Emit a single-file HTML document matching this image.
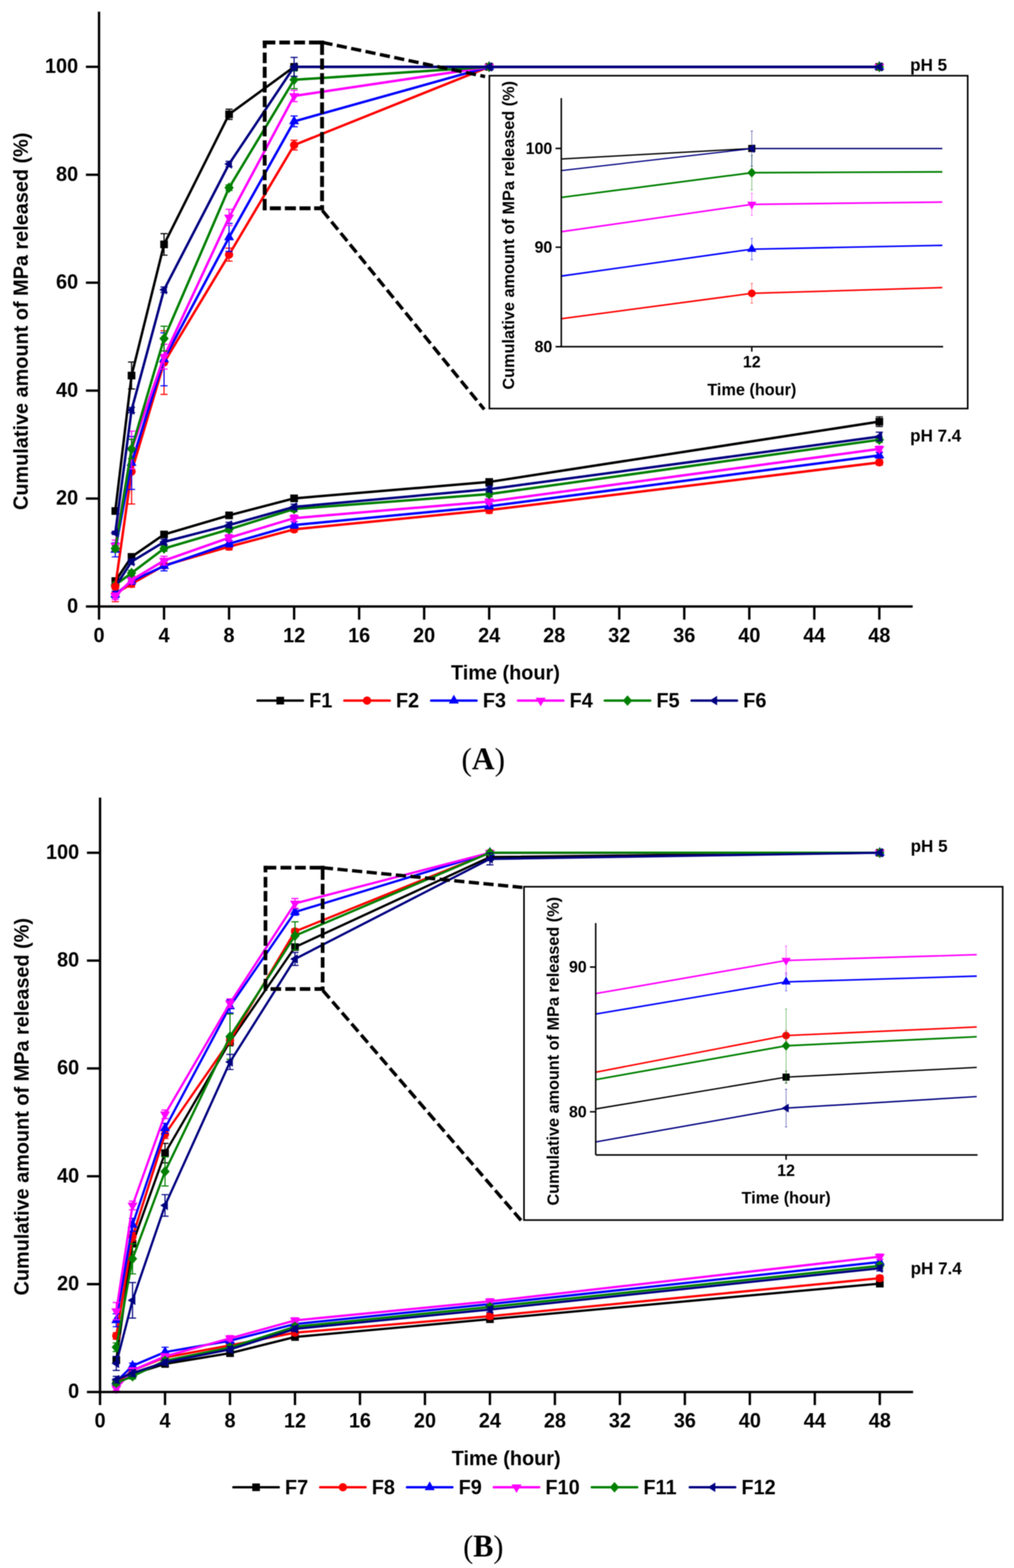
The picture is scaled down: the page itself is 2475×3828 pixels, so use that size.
<!DOCTYPE html>
<html lang="en">
<head>
<meta charset="utf-8">
<title>Cumulative amount of MPa released</title>
<style>
html,body{margin:0;padding:0;background:#fff;}
body{width:2475px;height:3828px;overflow:hidden;}
svg{display:block;filter:blur(1.1px);}
svg text{font-family:"Liberation Sans",sans-serif;font-weight:700;fill:#000;}
svg text.cap{font-family:"Liberation Serif",serif;font-weight:400;}
svg text.cap .capb{font-weight:700;}
</style>
</head>
<body>
<svg width="2475" height="3828" viewBox="0 0 2475 3828" role="img" aria-label="Cumulative amount of MPa released (%) versus time (hour) at pH 5 and pH 7.4 for formulations F1-F12">
<rect width="2475" height="3828" fill="#fff"/>
<g id="chartA">
<polyline points="281.4,1418.8 321.1,1359.5 400.4,1304.8 559.1,1258.2 717.9,1216.7 1194,1176.6 2146.3,1029.3" fill="none" stroke="#000000" stroke-width="6.0" stroke-linejoin="round" stroke-linecap="round"/>
<path d="M281.4 1410.9V1426.7M272.7 1410.9H290.1M272.7 1426.7H290.1" stroke="#000000" stroke-width="2.7" fill="none"/>
<path d="M321.1 1352.9V1366.1M312.4 1352.9H329.8M312.4 1366.1H329.8" stroke="#000000" stroke-width="2.7" fill="none"/>
<path d="M400.4 1298.2V1311.4M391.7 1298.2H409.1M391.7 1311.4H409.1" stroke="#000000" stroke-width="2.7" fill="none"/>
<path d="M559.1 1251.6V1264.8M550.4 1251.6H567.8M550.4 1264.8H567.8" stroke="#000000" stroke-width="2.7" fill="none"/>
<path d="M717.9 1210.1V1223.3M709.2 1210.1H726.6M709.2 1223.3H726.6" stroke="#000000" stroke-width="2.7" fill="none"/>
<path d="M1194 1170V1183.2M1185.3 1170H1202.7M1185.3 1183.2H1202.7" stroke="#000000" stroke-width="2.7" fill="none"/>
<path d="M2146.3 1017.5V1041.2M2137.6 1017.5H2155M2137.6 1041.2H2155" stroke="#000000" stroke-width="2.7" fill="none"/>
<rect x="272.1" y="1409.4" width="18.7" height="18.7" fill="#000000"/>
<rect x="311.7" y="1350.2" width="18.7" height="18.7" fill="#000000"/>
<rect x="391.1" y="1295.5" width="18.7" height="18.7" fill="#000000"/>
<rect x="549.8" y="1248.8" width="18.7" height="18.7" fill="#000000"/>
<rect x="708.5" y="1207.3" width="18.7" height="18.7" fill="#000000"/>
<rect x="1184.7" y="1167.3" width="18.7" height="18.7" fill="#000000"/>
<rect x="2137" y="1020" width="18.7" height="18.7" fill="#000000"/>
<polyline points="281.4,1449.1 321.1,1425.4 400.4,1380.6 559.1,1334.7 717.9,1292.3 1194,1245.3 2146.3,1128.9" fill="none" stroke="#ff0000" stroke-width="6.0" stroke-linejoin="round" stroke-linecap="round"/>
<path d="M281.4 1429.3V1468.8M272.7 1429.3H290.1M272.7 1468.8H290.1" stroke="#ff0000" stroke-width="2.7" fill="none"/>
<path d="M321.1 1417.5V1433.3M312.4 1417.5H329.8M312.4 1433.3H329.8" stroke="#ff0000" stroke-width="2.7" fill="none"/>
<path d="M400.4 1374V1387.2M391.7 1374H409.1M391.7 1387.2H409.1" stroke="#ff0000" stroke-width="2.7" fill="none"/>
<path d="M559.1 1326.8V1342.6M550.4 1326.8H567.8M550.4 1342.6H567.8" stroke="#ff0000" stroke-width="2.7" fill="none"/>
<path d="M717.9 1285.7V1298.9M709.2 1285.7H726.6M709.2 1298.9H726.6" stroke="#ff0000" stroke-width="2.7" fill="none"/>
<path d="M1194 1237.4V1253.2M1185.3 1237.4H1202.7M1185.3 1253.2H1202.7" stroke="#ff0000" stroke-width="2.7" fill="none"/>
<path d="M2146.3 1122.3V1135.5M2137.6 1122.3H2155M2137.6 1135.5H2155" stroke="#ff0000" stroke-width="2.7" fill="none"/>
<circle cx="281.4" cy="1449.1" r="10.1" fill="#ff0000"/>
<circle cx="321.1" cy="1425.4" r="10.1" fill="#ff0000"/>
<circle cx="400.4" cy="1380.6" r="10.1" fill="#ff0000"/>
<circle cx="559.1" cy="1334.7" r="10.1" fill="#ff0000"/>
<circle cx="717.9" cy="1292.3" r="10.1" fill="#ff0000"/>
<circle cx="1194" cy="1245.3" r="10.1" fill="#ff0000"/>
<circle cx="2146.3" cy="1128.9" r="10.1" fill="#ff0000"/>
<polyline points="281.4,1451.7 321.1,1418.8 400.4,1381.9 559.1,1327.3 717.9,1281.8 1194,1235.9 2146.3,1111.8" fill="none" stroke="#0000ff" stroke-width="6.0" stroke-linejoin="round" stroke-linecap="round"/>
<path d="M281.4 1443.8V1459.6M272.7 1443.8H290.1M272.7 1459.6H290.1" stroke="#0000ff" stroke-width="2.7" fill="none"/>
<path d="M321.1 1410.9V1426.7M312.4 1410.9H329.8M312.4 1426.7H329.8" stroke="#0000ff" stroke-width="2.7" fill="none"/>
<path d="M400.4 1370V1393.7M391.7 1370H409.1M391.7 1393.7H409.1" stroke="#0000ff" stroke-width="2.7" fill="none"/>
<path d="M559.1 1319.4V1335.2M550.4 1319.4H567.8M550.4 1335.2H567.8" stroke="#0000ff" stroke-width="2.7" fill="none"/>
<path d="M717.9 1273.9V1289.7M709.2 1273.9H726.6M709.2 1289.7H726.6" stroke="#0000ff" stroke-width="2.7" fill="none"/>
<path d="M1194 1229.3V1242.5M1185.3 1229.3H1202.7M1185.3 1242.5H1202.7" stroke="#0000ff" stroke-width="2.7" fill="none"/>
<path d="M2146.3 1105.2V1118.4M2137.6 1105.2H2155M2137.6 1118.4H2155" stroke="#0000ff" stroke-width="2.7" fill="none"/>
<path d="M281.4 1437.3L293.6 1458.7L269.2 1458.7Z" fill="#0000ff"/>
<path d="M321.1 1404.4L333.2 1425.8L308.9 1425.8Z" fill="#0000ff"/>
<path d="M400.4 1367.5L412.6 1388.9L388.2 1388.9Z" fill="#0000ff"/>
<path d="M559.1 1312.9L571.3 1334.3L546.9 1334.3Z" fill="#0000ff"/>
<path d="M717.9 1267.3L730 1288.8L705.7 1288.8Z" fill="#0000ff"/>
<path d="M1194 1221.5L1206.2 1242.9L1181.8 1242.9Z" fill="#0000ff"/>
<path d="M2146.3 1097.4L2158.5 1118.8L2134.1 1118.8Z" fill="#0000ff"/>
<polyline points="281.4,1455.7 321.1,1416.1 400.4,1368.7 559.1,1312.9 717.9,1265 1194,1224.4 2146.3,1096" fill="none" stroke="#ff00ff" stroke-width="6.0" stroke-linejoin="round" stroke-linecap="round"/>
<path d="M281.4 1447.8V1463.6M272.7 1447.8H290.1M272.7 1463.6H290.1" stroke="#ff00ff" stroke-width="2.7" fill="none"/>
<path d="M321.1 1408.2V1424M312.4 1408.2H329.8M312.4 1424H329.8" stroke="#ff00ff" stroke-width="2.7" fill="none"/>
<path d="M400.4 1358.2V1379.3M391.7 1358.2H409.1M391.7 1379.3H409.1" stroke="#ff00ff" stroke-width="2.7" fill="none"/>
<path d="M559.1 1304.9V1320.8M550.4 1304.9H567.8M550.4 1320.8H567.8" stroke="#ff00ff" stroke-width="2.7" fill="none"/>
<path d="M717.9 1257.1V1272.9M709.2 1257.1H726.6M709.2 1272.9H726.6" stroke="#ff00ff" stroke-width="2.7" fill="none"/>
<path d="M1194 1217.9V1231M1185.3 1217.9H1202.7M1185.3 1231H1202.7" stroke="#ff00ff" stroke-width="2.7" fill="none"/>
<path d="M2146.3 1089.4V1102.6M2137.6 1089.4H2155M2137.6 1102.6H2155" stroke="#ff00ff" stroke-width="2.7" fill="none"/>
<path d="M281.4 1469.4L293.6 1448.8L269.2 1448.8Z" fill="#ff00ff"/>
<path d="M321.1 1429.9L333.2 1409.3L308.9 1409.3Z" fill="#ff00ff"/>
<path d="M400.4 1382.5L412.6 1361.8L388.2 1361.8Z" fill="#ff00ff"/>
<path d="M559.1 1326.6L571.3 1306L546.9 1306Z" fill="#ff00ff"/>
<path d="M717.9 1278.8L730 1258.1L705.7 1258.1Z" fill="#ff00ff"/>
<path d="M1194 1238.2L1206.2 1217.6L1181.8 1217.6Z" fill="#ff00ff"/>
<path d="M2146.3 1109.8L2158.5 1089.1L2134.1 1089.1Z" fill="#ff00ff"/>
<polyline points="281.4,1428 321.1,1399 400.4,1339.1 559.1,1292.3 717.9,1242.6 1194,1206.3 2146.3,1073.6" fill="none" stroke="#008000" stroke-width="6.0" stroke-linejoin="round" stroke-linecap="round"/>
<path d="M281.4 1421.4V1434.6M272.7 1421.4H290.1M272.7 1434.6H290.1" stroke="#008000" stroke-width="2.7" fill="none"/>
<path d="M321.1 1392.4V1405.6M312.4 1392.4H329.8M312.4 1405.6H329.8" stroke="#008000" stroke-width="2.7" fill="none"/>
<path d="M400.4 1332.5V1345.7M391.7 1332.5H409.1M391.7 1345.7H409.1" stroke="#008000" stroke-width="2.7" fill="none"/>
<path d="M559.1 1285.7V1298.9M550.4 1285.7H567.8M550.4 1298.9H567.8" stroke="#008000" stroke-width="2.7" fill="none"/>
<path d="M717.9 1236V1249.2M709.2 1236H726.6M709.2 1249.2H726.6" stroke="#008000" stroke-width="2.7" fill="none"/>
<path d="M1194 1199.7V1212.9M1185.3 1199.7H1202.7M1185.3 1212.9H1202.7" stroke="#008000" stroke-width="2.7" fill="none"/>
<path d="M2146.3 1067V1080.2M2137.6 1067H2155M2137.6 1080.2H2155" stroke="#008000" stroke-width="2.7" fill="none"/>
<path d="M281.4 1415.1L292.8 1428L281.4 1440.9L269.9 1428Z" fill="#008000"/>
<path d="M321.1 1386.1L332.5 1399L321.1 1411.9L309.6 1399Z" fill="#008000"/>
<path d="M400.4 1326.1L411.9 1339.1L400.4 1352L389 1339.1Z" fill="#008000"/>
<path d="M559.1 1279.4L570.6 1292.3L559.1 1305.2L547.7 1292.3Z" fill="#008000"/>
<path d="M717.9 1229.7L729.3 1242.6L717.9 1255.6L706.4 1242.6Z" fill="#008000"/>
<path d="M1194 1193.3L1205.5 1206.3L1194 1219.2L1182.6 1206.3Z" fill="#008000"/>
<path d="M2146.3 1060.7L2157.8 1073.6L2146.3 1086.5L2134.9 1073.6Z" fill="#008000"/>
<polyline points="281.4,1432 321.1,1371.3 400.4,1323 559.1,1281.8 717.9,1237.5 1194,1194.3 2146.3,1065.7" fill="none" stroke="#000080" stroke-width="6.0" stroke-linejoin="round" stroke-linecap="round"/>
<path d="M281.4 1425.4V1438.5M272.7 1425.4H290.1M272.7 1438.5H290.1" stroke="#000080" stroke-width="2.7" fill="none"/>
<path d="M321.1 1364.8V1377.9M312.4 1364.8H329.8M312.4 1377.9H329.8" stroke="#000080" stroke-width="2.7" fill="none"/>
<path d="M400.4 1316.4V1329.6M391.7 1316.4H409.1M391.7 1329.6H409.1" stroke="#000080" stroke-width="2.7" fill="none"/>
<path d="M559.1 1275.2V1288.3M550.4 1275.2H567.8M550.4 1288.3H567.8" stroke="#000080" stroke-width="2.7" fill="none"/>
<path d="M717.9 1230.9V1244.1M709.2 1230.9H726.6M709.2 1244.1H726.6" stroke="#000080" stroke-width="2.7" fill="none"/>
<path d="M1194 1187.7V1200.9M1185.3 1187.7H1202.7M1185.3 1200.9H1202.7" stroke="#000080" stroke-width="2.7" fill="none"/>
<path d="M2146.3 1055.1V1076.2M2137.6 1055.1H2155M2137.6 1076.2H2155" stroke="#000080" stroke-width="2.7" fill="none"/>
<path d="M269.7 1432L288.3 1420.3L288.3 1443.6Z" fill="#000080"/>
<path d="M309.4 1371.3L327.9 1359.7L327.9 1383Z" fill="#000080"/>
<path d="M388.8 1323L407.3 1311.3L407.3 1334.7Z" fill="#000080"/>
<path d="M547.5 1281.8L566 1270.1L566 1293.4Z" fill="#000080"/>
<path d="M706.2 1237.5L724.7 1225.8L724.7 1249.1Z" fill="#000080"/>
<path d="M1182.4 1194.3L1200.9 1182.6L1200.9 1205.9Z" fill="#000080"/>
<path d="M2134.7 1065.7L2153.2 1054L2153.2 1077.3Z" fill="#000080"/>
<polyline points="281.4,1247.5 321.1,916.8 400.4,596.7 559.1,279.1 717.9,163.2 1194,163.2 2146.3,163.2" fill="none" stroke="#000000" stroke-width="6.0" stroke-linejoin="round" stroke-linecap="round"/>
<path d="M281.4 1242.2V1252.8M272.7 1242.2H290.1M272.7 1252.8H290.1" stroke="#000000" stroke-width="2.7" fill="none"/>
<path d="M321.1 883.9V949.7M312.4 883.9H329.8M312.4 949.7H329.8" stroke="#000000" stroke-width="2.7" fill="none"/>
<path d="M400.4 570.3V623M391.7 570.3H409.1M391.7 623H409.1" stroke="#000000" stroke-width="2.7" fill="none"/>
<path d="M559.1 266.6V291.7M550.4 266.6H567.8M550.4 291.7H567.8" stroke="#000000" stroke-width="2.7" fill="none"/>
<path d="M717.9 159.2V167.2M709.2 159.2H726.6M709.2 167.2H726.6" stroke="#000000" stroke-width="2.7" fill="none"/>
<rect x="272.1" y="1238.2" width="18.7" height="18.7" fill="#000000"/>
<rect x="311.7" y="907.5" width="18.7" height="18.7" fill="#000000"/>
<rect x="391.1" y="587.3" width="18.7" height="18.7" fill="#000000"/>
<rect x="549.8" y="269.8" width="18.7" height="18.7" fill="#000000"/>
<rect x="708.5" y="153.9" width="18.7" height="18.7" fill="#000000"/>
<rect x="1184.7" y="153.9" width="18.7" height="18.7" fill="#000000"/>
<rect x="2137" y="153.9" width="18.7" height="18.7" fill="#000000"/>
<polyline points="281.4,1432 321.1,1151.3 400.4,885.2 559.1,621.7 717.9,354.2 1194,163.2 2146.3,163.2" fill="none" stroke="#ff0000" stroke-width="6.0" stroke-linejoin="round" stroke-linecap="round"/>
<path d="M281.4 1426.7V1437.2M272.7 1426.7H290.1M272.7 1437.2H290.1" stroke="#ff0000" stroke-width="2.7" fill="none"/>
<path d="M321.1 1072.3V1230.4M312.4 1072.3H329.8M312.4 1230.4H329.8" stroke="#ff0000" stroke-width="2.7" fill="none"/>
<path d="M400.4 807.5V962.9M391.7 807.5H409.1M391.7 962.9H409.1" stroke="#ff0000" stroke-width="2.7" fill="none"/>
<path d="M559.1 605.9V637.5M550.4 605.9H567.8M550.4 637.5H567.8" stroke="#ff0000" stroke-width="2.7" fill="none"/>
<path d="M717.9 342.4V366.1M709.2 342.4H726.6M709.2 366.1H726.6" stroke="#ff0000" stroke-width="2.7" fill="none"/>
<circle cx="281.4" cy="1432" r="10.1" fill="#ff0000"/>
<circle cx="321.1" cy="1151.3" r="10.1" fill="#ff0000"/>
<circle cx="400.4" cy="885.2" r="10.1" fill="#ff0000"/>
<circle cx="559.1" cy="621.7" r="10.1" fill="#ff0000"/>
<circle cx="717.9" cy="354.2" r="10.1" fill="#ff0000"/>
<circle cx="1194" cy="163.2" r="10.1" fill="#ff0000"/>
<circle cx="2146.3" cy="163.2" r="10.1" fill="#ff0000"/>
<polyline points="281.4,1342.4 321.1,1130.2 400.4,877.3 559.1,579.5 717.9,296.3 1194,163.2 2146.3,163.2" fill="none" stroke="#0000ff" stroke-width="6.0" stroke-linejoin="round" stroke-linecap="round"/>
<path d="M281.4 1325.2V1359.5M272.7 1325.2H290.1M272.7 1359.5H290.1" stroke="#0000ff" stroke-width="2.7" fill="none"/>
<path d="M321.1 1065.7V1194.8M312.4 1065.7H329.8M312.4 1194.8H329.8" stroke="#0000ff" stroke-width="2.7" fill="none"/>
<path d="M400.4 812.7V941.8M391.7 812.7H409.1M391.7 941.8H409.1" stroke="#0000ff" stroke-width="2.7" fill="none"/>
<path d="M559.1 545.3V613.8M550.4 545.3H567.8M550.4 613.8H567.8" stroke="#0000ff" stroke-width="2.7" fill="none"/>
<path d="M717.9 283.1V309.4M709.2 283.1H726.6M709.2 309.4H726.6" stroke="#0000ff" stroke-width="2.7" fill="none"/>
<path d="M281.4 1327.9L293.6 1349.4L269.2 1349.4Z" fill="#0000ff"/>
<path d="M321.1 1115.8L333.2 1137.2L308.9 1137.2Z" fill="#0000ff"/>
<path d="M400.4 862.9L412.6 884.3L388.2 884.3Z" fill="#0000ff"/>
<path d="M559.1 565.1L571.3 586.5L546.9 586.5Z" fill="#0000ff"/>
<path d="M717.9 281.9L730 303.3L705.7 303.3Z" fill="#0000ff"/>
<path d="M1194 148.8L1206.2 170.2L1181.8 170.2Z" fill="#0000ff"/>
<path d="M2146.3 148.8L2158.5 170.2L2134.1 170.2Z" fill="#0000ff"/>
<polyline points="281.4,1331.8 321.1,1098.6 400.4,870.7 559.1,530.8 717.9,234.3 1194,163.2 2146.3,163.2" fill="none" stroke="#ff00ff" stroke-width="6.0" stroke-linejoin="round" stroke-linecap="round"/>
<path d="M281.4 1318.6V1345M272.7 1318.6H290.1M272.7 1345H290.1" stroke="#ff00ff" stroke-width="2.7" fill="none"/>
<path d="M321.1 1052.5V1144.7M312.4 1052.5H329.8M312.4 1144.7H329.8" stroke="#ff00ff" stroke-width="2.7" fill="none"/>
<path d="M400.4 840.4V901M391.7 840.4H409.1M391.7 901H409.1" stroke="#ff00ff" stroke-width="2.7" fill="none"/>
<path d="M559.1 511V550.5M550.4 511H567.8M550.4 550.5H567.8" stroke="#ff00ff" stroke-width="2.7" fill="none"/>
<path d="M717.9 220.5V248.2M709.2 220.5H726.6M709.2 248.2H726.6" stroke="#ff00ff" stroke-width="2.7" fill="none"/>
<path d="M281.4 1345.6L293.6 1324.9L269.2 1324.9Z" fill="#ff00ff"/>
<path d="M321.1 1112.4L333.2 1091.7L308.9 1091.7Z" fill="#ff00ff"/>
<path d="M400.4 884.5L412.6 863.8L388.2 863.8Z" fill="#ff00ff"/>
<path d="M559.1 544.6L571.3 523.9L546.9 523.9Z" fill="#ff00ff"/>
<path d="M717.9 248.1L730 227.5L705.7 227.5Z" fill="#ff00ff"/>
<path d="M1194 177L1206.2 156.3L1181.8 156.3Z" fill="#ff00ff"/>
<path d="M2146.3 177L2158.5 156.3L2134.1 156.3Z" fill="#ff00ff"/>
<polyline points="281.4,1339.1 321.1,1096 400.4,826.6 559.1,458.3 717.9,194.8 1194,163.2 2146.3,163.2" fill="none" stroke="#008000" stroke-width="6.0" stroke-linejoin="round" stroke-linecap="round"/>
<path d="M281.4 1332.5V1345.7M272.7 1332.5H290.1M272.7 1345.7H290.1" stroke="#008000" stroke-width="2.7" fill="none"/>
<path d="M321.1 1072.3V1119.7M312.4 1072.3H329.8M312.4 1119.7H329.8" stroke="#008000" stroke-width="2.7" fill="none"/>
<path d="M400.4 796.3V856.9M391.7 796.3H409.1M391.7 856.9H409.1" stroke="#008000" stroke-width="2.7" fill="none"/>
<path d="M559.1 451.7V464.9M550.4 451.7H567.8M550.4 464.9H567.8" stroke="#008000" stroke-width="2.7" fill="none"/>
<path d="M717.9 173.1V216.6M709.2 173.1H726.6M709.2 216.6H726.6" stroke="#008000" stroke-width="2.7" fill="none"/>
<path d="M281.4 1326.1L292.8 1339.1L281.4 1352L269.9 1339.1Z" fill="#008000"/>
<path d="M321.1 1083.1L332.5 1096L321.1 1108.9L309.6 1096Z" fill="#008000"/>
<path d="M400.4 813.6L411.9 826.6L400.4 839.5L389 826.6Z" fill="#008000"/>
<path d="M559.1 445.4L570.6 458.3L559.1 471.3L547.7 458.3Z" fill="#008000"/>
<path d="M717.9 181.9L729.3 194.8L717.9 207.8L706.4 194.8Z" fill="#008000"/>
<path d="M1194 150.3L1205.5 163.2L1194 176.1L1182.6 163.2Z" fill="#008000"/>
<path d="M2146.3 150.3L2157.8 163.2L2146.3 176.1L2134.9 163.2Z" fill="#008000"/>
<polyline points="281.4,1300.9 321.1,1001.1 400.4,707.3 559.1,400.3 717.9,163.2 1194,163.2 2146.3,163.2" fill="none" stroke="#000080" stroke-width="6.0" stroke-linejoin="round" stroke-linecap="round"/>
<path d="M281.4 1296.9V1304.8M272.7 1296.9H290.1M272.7 1304.8H290.1" stroke="#000080" stroke-width="2.7" fill="none"/>
<path d="M321.1 994.5V1007.7M312.4 994.5H329.8M312.4 1007.7H329.8" stroke="#000080" stroke-width="2.7" fill="none"/>
<path d="M400.4 700.7V713.9M391.7 700.7H409.1M391.7 713.9H409.1" stroke="#000080" stroke-width="2.7" fill="none"/>
<path d="M559.1 393.8V406.9M550.4 393.8H567.8M550.4 406.9H567.8" stroke="#000080" stroke-width="2.7" fill="none"/>
<path d="M717.9 140.1V186.3M709.2 140.1H726.6M709.2 186.3H726.6" stroke="#000080" stroke-width="2.7" fill="none"/>
<path d="M269.7 1300.9L288.3 1289.2L288.3 1312.5Z" fill="#000080"/>
<path d="M309.4 1001.1L327.9 989.5L327.9 1012.8Z" fill="#000080"/>
<path d="M388.8 707.3L407.3 695.7L407.3 719Z" fill="#000080"/>
<path d="M547.5 400.3L566 388.7L566 412Z" fill="#000080"/>
<path d="M706.2 163.2L724.7 151.5L724.7 174.9Z" fill="#000080"/>
<path d="M1182.4 163.2L1200.9 151.5L1200.9 174.9Z" fill="#000080"/>
<path d="M2134.7 163.2L2153.2 151.5L2153.2 174.9Z" fill="#000080"/>
<path d="M241.7 28.5V1480.7M209.7 1480.7H2227.7M209.7 1217.2H241.7M209.7 953.7H241.7M209.7 690.2H241.7M209.7 426.7H241.7M209.7 163.2H241.7M241.7 1480.7V1512.7M400.4 1480.7V1512.7M559.1 1480.7V1512.7M717.9 1480.7V1512.7M876.6 1480.7V1512.7M1035.3 1480.7V1512.7M1194 1480.7V1512.7M1352.7 1480.7V1512.7M1511.5 1480.7V1512.7M1670.2 1480.7V1512.7M1828.9 1480.7V1512.7M1987.6 1480.7V1512.7M2146.3 1480.7V1512.7" stroke="#000" stroke-width="5.8" fill="none"/>
<text transform="translate(190.7 1495.7) scale(0.96 1)" text-anchor="end" font-size="50.5">0</text>
<text transform="translate(190.7 1232.2) scale(0.96 1)" text-anchor="end" font-size="50.5">20</text>
<text transform="translate(190.7 968.7) scale(0.96 1)" text-anchor="end" font-size="50.5">40</text>
<text transform="translate(190.7 705.2) scale(0.96 1)" text-anchor="end" font-size="50.5">60</text>
<text transform="translate(190.7 441.7) scale(0.96 1)" text-anchor="end" font-size="50.5">80</text>
<text transform="translate(190.7 178.2) scale(0.96 1)" text-anchor="end" font-size="50.5">100</text>
<text transform="translate(241.7 1567.7) scale(0.96 1)" text-anchor="middle" font-size="50.5">0</text>
<text transform="translate(400.4 1567.7) scale(0.96 1)" text-anchor="middle" font-size="50.5">4</text>
<text transform="translate(559.1 1567.7) scale(0.96 1)" text-anchor="middle" font-size="50.5">8</text>
<text transform="translate(717.9 1567.7) scale(0.96 1)" text-anchor="middle" font-size="50.5">12</text>
<text transform="translate(876.6 1567.7) scale(0.96 1)" text-anchor="middle" font-size="50.5">16</text>
<text transform="translate(1035.3 1567.7) scale(0.96 1)" text-anchor="middle" font-size="50.5">20</text>
<text transform="translate(1194 1567.7) scale(0.96 1)" text-anchor="middle" font-size="50.5">24</text>
<text transform="translate(1352.7 1567.7) scale(0.96 1)" text-anchor="middle" font-size="50.5">28</text>
<text transform="translate(1511.5 1567.7) scale(0.96 1)" text-anchor="middle" font-size="50.5">32</text>
<text transform="translate(1670.2 1567.7) scale(0.96 1)" text-anchor="middle" font-size="50.5">36</text>
<text transform="translate(1828.9 1567.7) scale(0.96 1)" text-anchor="middle" font-size="50.5">40</text>
<text transform="translate(1987.6 1567.7) scale(0.96 1)" text-anchor="middle" font-size="50.5">44</text>
<text transform="translate(2146.3 1567.7) scale(0.96 1)" text-anchor="middle" font-size="50.5">48</text>
<text transform="translate(1233.7 1659.3) scale(0.96 1)" text-anchor="middle" font-size="50.5">Time (hour)</text>
<text transform="translate(67.5 1245) rotate(-90) scale(0.96 1)" font-size="50.5">Cumulative amount of MPa released (%)</text>
<text transform="translate(2221.5 172.8) scale(0.96 1)" font-size="43.3">pH 5</text>
<text transform="translate(2221.5 1077.8) scale(0.96 1)" font-size="43.3">pH 7.4</text>
<path d="M641.2 103.8H672.1M681.8 103.8H707.8M717.5 103.8H744.5M754.2 103.8H791M641.2 508.5H650.9M658.6 508.5H685.6M695.3 508.5H722.3M731 508.5H758M766.7 508.5H791M646.1 98.9V117.6M646.1 128.3V154.3M646.1 163V190M646.1 198.7V225.8M646.1 234.4V261.5M646.1 270.2V297.2M646.1 306.8V333M646.1 342.5V368.6M646.1 378.3V404.3M646.1 414V440M646.1 449.7V475.8M646.1 485.4V513.4M786.1 98.9V134.1M786.1 142.7V169.8M786.1 178.5V205.5M786.1 215.1V241.2M786.1 249.9V277.9M786.1 285.6V313.6M786.1 322.3V349.3M786.1 358V385M786.1 393.7V420.7M786.1 429.4V456.5M786.1 465.1V491.2M786.1 500.8V513.4" stroke="#000" stroke-width="9.4" fill="none"/>
<path d="M787 103.5L1184 187" stroke="#000" stroke-width="8.2" stroke-dasharray="25 10.8" fill="none"/>
<path d="M786.5 513.5L1182 999.5" stroke="#000" stroke-width="8.2" stroke-dasharray="25 10.8" fill="none"/>
<rect x="1194.5" y="184.8" width="1167.5" height="812.6" fill="#fff" stroke="#000" stroke-width="3.9"/>
<polyline points="1370,388.2 1835,362.5 2300,362.5" fill="none" stroke="#000000" stroke-width="3.2"/>
<polyline points="1370,778.2 1835,716.2 2300,702.1" fill="none" stroke="#ff0000" stroke-width="3.8"/>
<polyline points="1370,674 1835,608.3 2300,599" fill="none" stroke="#0000ff" stroke-width="3.8"/>
<polyline points="1370,565.7 1835,498.9 2300,493.3" fill="none" stroke="#ff00ff" stroke-width="4.0"/>
<polyline points="1370,482 1835,421.6 2300,419.6" fill="none" stroke="#008000" stroke-width="4.2"/>
<polyline points="1370,416.4 1835,362.8 2300,362.8" fill="none" stroke="#000080" stroke-width="3.0"/>
<path d="M1835 362.5V362.5M1832 362.5H1838M1832 362.5H1838" stroke="#000000" stroke-width="1.4" fill="none" opacity="0.7"/>
<rect x="1826.3" y="353.8" width="17.4" height="17.4" fill="#000000"/>
<path d="M1835 692.2V740.2M1832 692.2H1838M1832 740.2H1838" stroke="#ff0000" stroke-width="1.4" fill="none" opacity="0.7"/>
<circle cx="1835" cy="716.2" r="9.4" fill="#ff0000"/>
<path d="M1835 582.3V634.3M1832 582.3H1838M1832 634.3H1838" stroke="#0000ff" stroke-width="1.4" fill="none" opacity="0.7"/>
<path d="M1835 594.9L1846.3 614.8L1823.7 614.8Z" fill="#0000ff"/>
<path d="M1835 471.9V525.9M1832 471.9H1838M1832 525.9H1838" stroke="#ff00ff" stroke-width="1.4" fill="none" opacity="0.7"/>
<path d="M1835 511.7L1846.3 492.5L1823.7 492.5Z" fill="#ff00ff"/>
<path d="M1835 379.6V463.6M1832 379.6H1838M1832 463.6H1838" stroke="#008000" stroke-width="1.4" fill="none" opacity="0.7"/>
<path d="M1835 409.6L1845.6 421.6L1835 433.6L1824.4 421.6Z" fill="#008000"/>
<path d="M1835 319.8V405.8M1832 319.8H1838M1832 405.8H1838" stroke="#000080" stroke-width="1.4" fill="none" opacity="0.7"/>
<path d="M1824.2 362.8L1841.4 352L1841.4 373.6Z" fill="#000080"/>
<text transform="translate(1348 375.9) scale(0.96 1)" text-anchor="end" font-size="40.6">100</text>
<text transform="translate(1348 617) scale(0.96 1)" text-anchor="end" font-size="40.6">90</text>
<text transform="translate(1348 859.9) scale(0.96 1)" text-anchor="end" font-size="40.6">80</text>
<path d="M1370 239.5V846.4M1356 846.4H2302M1835 846.4V858.4M1356 362.4H1370M1356 603.5H1370" stroke="#000" stroke-width="3.6" fill="none"/>
<text transform="translate(1835 897.4) scale(0.96 1)" text-anchor="middle" font-size="40.6">12</text>
<text transform="translate(1835 965.4) scale(0.96 1)" text-anchor="middle" font-size="41.3">Time (hour)</text>
<text transform="translate(1254.5 951) rotate(-90) scale(0.96 1)" font-size="41.3">Cumulative amount of MPa released (%)</text>
<path d="M628.5 1710.4H739.5" stroke="#000000" stroke-width="5.6" stroke-linecap="round" fill="none"/>
<rect x="674.7" y="1701.1" width="18.7" height="18.7" fill="#000000"/>
<text transform="translate(754.6 1727) scale(0.96 1)" font-size="50.5">F1</text>
<path d="M840.4 1710.4H951.4" stroke="#ff0000" stroke-width="5.6" stroke-linecap="round" fill="none"/>
<circle cx="895.9" cy="1710.4" r="10.1" fill="#ff0000"/>
<text transform="translate(966.5 1727) scale(0.96 1)" font-size="50.5">F2</text>
<path d="M1052.3 1710.4H1163.3" stroke="#0000ff" stroke-width="5.6" stroke-linecap="round" fill="none"/>
<path d="M1107.8 1696L1120 1717.4L1095.6 1717.4Z" fill="#0000ff"/>
<text transform="translate(1178.4 1727) scale(0.96 1)" font-size="50.5">F3</text>
<path d="M1264.2 1710.4H1375.2" stroke="#ff00ff" stroke-width="5.6" stroke-linecap="round" fill="none"/>
<path d="M1319.7 1724.2L1331.9 1703.5L1307.5 1703.5Z" fill="#ff00ff"/>
<text transform="translate(1390.3 1727) scale(0.96 1)" font-size="50.5">F4</text>
<path d="M1476.1 1710.4H1587.1" stroke="#008000" stroke-width="5.6" stroke-linecap="round" fill="none"/>
<path d="M1531.6 1697.5L1543 1710.4L1531.6 1723.3L1520.2 1710.4Z" fill="#008000"/>
<text transform="translate(1602.2 1727) scale(0.96 1)" font-size="50.5">F5</text>
<path d="M1688 1710.4H1799" stroke="#000080" stroke-width="5.6" stroke-linecap="round" fill="none"/>
<path d="M1731.8 1710.4L1750.4 1698.7L1750.4 1722.1Z" fill="#000080"/>
<text transform="translate(1814.1 1727) scale(0.96 1)" font-size="50.5">F6</text>
<text transform="translate(1179.5 1877.9) scale(0.985 1)" text-anchor="middle" class="cap" font-size="78"><tspan dy="2">(</tspan><tspan class="capb" dy="-2">A</tspan><tspan dy="2">)</tspan></text>
</g>
<g id="chartB">
<polyline points="283.8,3374.6 323.5,3354.9 402.8,3329.8 561.4,3303.5 720,3264 1195.8,3220.6 2147.4,3133.7" fill="none" stroke="#000000" stroke-width="5.5" stroke-linejoin="round" stroke-linecap="round"/>
<path d="M283.8 3368V3381.2M275.1 3368H292.5M275.1 3381.2H292.5" stroke="#000000" stroke-width="2.7" fill="none"/>
<path d="M323.5 3348.3V3361.4M314.8 3348.3H332.2M314.8 3361.4H332.2" stroke="#000000" stroke-width="2.7" fill="none"/>
<path d="M402.8 3323.3V3336.4M394.1 3323.3H411.5M394.1 3336.4H411.5" stroke="#000000" stroke-width="2.7" fill="none"/>
<path d="M561.4 3296.9V3310.1M552.7 3296.9H570.1M552.7 3310.1H570.1" stroke="#000000" stroke-width="2.7" fill="none"/>
<path d="M720 3257.4V3270.6M711.3 3257.4H728.7M711.3 3270.6H728.7" stroke="#000000" stroke-width="2.7" fill="none"/>
<path d="M1195.8 3214V3227.2M1187.1 3214H1204.5M1187.1 3227.2H1204.5" stroke="#000000" stroke-width="2.7" fill="none"/>
<path d="M2147.4 3125.8V3141.6M2138.7 3125.8H2156.1M2138.7 3141.6H2156.1" stroke="#000000" stroke-width="2.7" fill="none"/>
<rect x="274.5" y="3365.3" width="18.7" height="18.7" fill="#000000"/>
<rect x="314.2" y="3345.5" width="18.7" height="18.7" fill="#000000"/>
<rect x="393.5" y="3320.5" width="18.7" height="18.7" fill="#000000"/>
<rect x="552.1" y="3294.2" width="18.7" height="18.7" fill="#000000"/>
<rect x="710.7" y="3254.7" width="18.7" height="18.7" fill="#000000"/>
<rect x="1186.5" y="3211.2" width="18.7" height="18.7" fill="#000000"/>
<rect x="2138.1" y="3124.4" width="18.7" height="18.7" fill="#000000"/>
<polyline points="283.8,3378.6 323.5,3345.6 402.8,3314 561.4,3284.4 720,3253.5 1195.8,3213.2 2147.4,3120.5" fill="none" stroke="#ff0000" stroke-width="5.5" stroke-linejoin="round" stroke-linecap="round"/>
<path d="M283.8 3372V3385.1M275.1 3372H292.5M275.1 3385.1H292.5" stroke="#ff0000" stroke-width="2.7" fill="none"/>
<path d="M323.5 3339.1V3352.2M314.8 3339.1H332.2M314.8 3352.2H332.2" stroke="#ff0000" stroke-width="2.7" fill="none"/>
<path d="M402.8 3307.5V3320.6M394.1 3307.5H411.5M394.1 3320.6H411.5" stroke="#ff0000" stroke-width="2.7" fill="none"/>
<path d="M561.4 3277.8V3291M552.7 3277.8H570.1M552.7 3291H570.1" stroke="#ff0000" stroke-width="2.7" fill="none"/>
<path d="M720 3246.9V3260.1M711.3 3246.9H728.7M711.3 3260.1H728.7" stroke="#ff0000" stroke-width="2.7" fill="none"/>
<path d="M1195.8 3206.6V3219.8M1187.1 3206.6H1204.5M1187.1 3219.8H1204.5" stroke="#ff0000" stroke-width="2.7" fill="none"/>
<path d="M2147.4 3113.9V3127.1M2138.7 3113.9H2156.1M2138.7 3127.1H2156.1" stroke="#ff0000" stroke-width="2.7" fill="none"/>
<circle cx="283.8" cy="3378.6" r="10.1" fill="#ff0000"/>
<circle cx="323.5" cy="3345.6" r="10.1" fill="#ff0000"/>
<circle cx="402.8" cy="3314" r="10.1" fill="#ff0000"/>
<circle cx="561.4" cy="3284.4" r="10.1" fill="#ff0000"/>
<circle cx="720" cy="3253.5" r="10.1" fill="#ff0000"/>
<circle cx="1195.8" cy="3213.2" r="10.1" fill="#ff0000"/>
<circle cx="2147.4" cy="3120.5" r="10.1" fill="#ff0000"/>
<polyline points="283.8,3373.3 323.5,3334.4 402.8,3300.9 561.4,3273.2 720,3232.4 1195.8,3183.7 2147.4,3081" fill="none" stroke="#0000ff" stroke-width="5.5" stroke-linejoin="round" stroke-linecap="round"/>
<path d="M283.8 3366.7V3379.9M275.1 3366.7H292.5M275.1 3379.9H292.5" stroke="#0000ff" stroke-width="2.7" fill="none"/>
<path d="M323.5 3327.9V3341M314.8 3327.9H332.2M314.8 3341H332.2" stroke="#0000ff" stroke-width="2.7" fill="none"/>
<path d="M402.8 3289V3312.7M394.1 3289H411.5M394.1 3312.7H411.5" stroke="#0000ff" stroke-width="2.7" fill="none"/>
<path d="M561.4 3266.7V3279.8M552.7 3266.7H570.1M552.7 3279.8H570.1" stroke="#0000ff" stroke-width="2.7" fill="none"/>
<path d="M720 3225.8V3239M711.3 3225.8H728.7M711.3 3239H728.7" stroke="#0000ff" stroke-width="2.7" fill="none"/>
<path d="M1195.8 3177.1V3190.3M1187.1 3177.1H1204.5M1187.1 3190.3H1204.5" stroke="#0000ff" stroke-width="2.7" fill="none"/>
<path d="M2147.4 3074.4V3087.6M2138.7 3074.4H2156.1M2138.7 3087.6H2156.1" stroke="#0000ff" stroke-width="2.7" fill="none"/>
<path d="M283.8 3358.9L296 3380.3L271.7 3380.3Z" fill="#0000ff"/>
<path d="M323.5 3320L335.7 3341.4L311.3 3341.4Z" fill="#0000ff"/>
<path d="M402.8 3286.5L415 3307.9L390.6 3307.9Z" fill="#0000ff"/>
<path d="M561.4 3258.8L573.6 3280.2L549.2 3280.2Z" fill="#0000ff"/>
<path d="M720 3218L732.2 3239.4L707.8 3239.4Z" fill="#0000ff"/>
<path d="M1195.8 3169.3L1208 3190.7L1183.6 3190.7Z" fill="#0000ff"/>
<path d="M2147.4 3066.6L2159.6 3088L2135.2 3088Z" fill="#0000ff"/>
<polyline points="283.8,3389.7 323.5,3345.6 402.8,3311.4 561.4,3267.3 720,3223.6 1195.8,3177.1 2147.4,3068.1" fill="none" stroke="#ff00ff" stroke-width="5.5" stroke-linejoin="round" stroke-linecap="round"/>
<path d="M283.8 3384.5V3395M275.1 3384.5H292.5M275.1 3395H292.5" stroke="#ff00ff" stroke-width="2.7" fill="none"/>
<path d="M323.5 3339.1V3352.2M314.8 3339.1H332.2M314.8 3352.2H332.2" stroke="#ff00ff" stroke-width="2.7" fill="none"/>
<path d="M402.8 3304.8V3318M394.1 3304.8H411.5M394.1 3318H411.5" stroke="#ff00ff" stroke-width="2.7" fill="none"/>
<path d="M561.4 3260.7V3273.9M552.7 3260.7H570.1M552.7 3273.9H570.1" stroke="#ff00ff" stroke-width="2.7" fill="none"/>
<path d="M720 3217V3230.2M711.3 3217H728.7M711.3 3230.2H728.7" stroke="#ff00ff" stroke-width="2.7" fill="none"/>
<path d="M1195.8 3170.5V3183.7M1187.1 3170.5H1204.5M1187.1 3183.7H1204.5" stroke="#ff00ff" stroke-width="2.7" fill="none"/>
<path d="M2147.4 3061.5V3074.7M2138.7 3061.5H2156.1M2138.7 3074.7H2156.1" stroke="#ff00ff" stroke-width="2.7" fill="none"/>
<path d="M283.8 3403.5L296 3382.9L271.7 3382.9Z" fill="#ff00ff"/>
<path d="M323.5 3359.4L335.7 3338.8L311.3 3338.8Z" fill="#ff00ff"/>
<path d="M402.8 3325.2L415 3304.5L390.6 3304.5Z" fill="#ff00ff"/>
<path d="M561.4 3281.1L573.6 3260.4L549.2 3260.4Z" fill="#ff00ff"/>
<path d="M720 3237.4L732.2 3216.7L707.8 3216.7Z" fill="#ff00ff"/>
<path d="M1195.8 3190.9L1208 3170.2L1183.6 3170.2Z" fill="#ff00ff"/>
<path d="M2147.4 3081.9L2159.6 3061.2L2135.2 3061.2Z" fill="#ff00ff"/>
<polyline points="283.8,3375.9 323.5,3360.1 402.8,3321.9 561.4,3289.6 720,3239 1195.8,3190.8 2147.4,3090.2" fill="none" stroke="#008000" stroke-width="5.5" stroke-linejoin="round" stroke-linecap="round"/>
<path d="M283.8 3369.3V3382.5M275.1 3369.3H292.5M275.1 3382.5H292.5" stroke="#008000" stroke-width="2.7" fill="none"/>
<path d="M323.5 3353.5V3366.7M314.8 3353.5H332.2M314.8 3366.7H332.2" stroke="#008000" stroke-width="2.7" fill="none"/>
<path d="M402.8 3315.4V3328.5M394.1 3315.4H411.5M394.1 3328.5H411.5" stroke="#008000" stroke-width="2.7" fill="none"/>
<path d="M561.4 3283V3296.1M552.7 3283H570.1M552.7 3296.1H570.1" stroke="#008000" stroke-width="2.7" fill="none"/>
<path d="M720 3232.4V3245.6M711.3 3232.4H728.7M711.3 3245.6H728.7" stroke="#008000" stroke-width="2.7" fill="none"/>
<path d="M1195.8 3184.2V3197.4M1187.1 3184.2H1204.5M1187.1 3197.4H1204.5" stroke="#008000" stroke-width="2.7" fill="none"/>
<path d="M2147.4 3083.7V3096.8M2138.7 3083.7H2156.1M2138.7 3096.8H2156.1" stroke="#008000" stroke-width="2.7" fill="none"/>
<path d="M283.8 3363L295.3 3375.9L283.8 3388.9L272.4 3375.9Z" fill="#008000"/>
<path d="M323.5 3347.2L334.9 3360.1L323.5 3373.1L312.1 3360.1Z" fill="#008000"/>
<path d="M402.8 3309L414.2 3321.9L402.8 3334.9L391.4 3321.9Z" fill="#008000"/>
<path d="M561.4 3276.6L572.8 3289.6L561.4 3302.5L550 3289.6Z" fill="#008000"/>
<path d="M720 3226.1L731.4 3239L720 3251.9L708.6 3239Z" fill="#008000"/>
<path d="M1195.8 3177.9L1207.2 3190.8L1195.8 3203.8L1184.4 3190.8Z" fill="#008000"/>
<path d="M2147.4 3077.3L2158.8 3090.2L2147.4 3103.2L2136 3090.2Z" fill="#008000"/>
<polyline points="283.8,3368 323.5,3352.2 402.8,3325.9 561.4,3294.3 720,3244.3 1195.8,3196.9 2147.4,3096.2" fill="none" stroke="#000080" stroke-width="5.5" stroke-linejoin="round" stroke-linecap="round"/>
<path d="M283.8 3360.1V3375.9M275.1 3360.1H292.5M275.1 3375.9H292.5" stroke="#000080" stroke-width="2.7" fill="none"/>
<path d="M323.5 3344.3V3360.1M314.8 3344.3H332.2M314.8 3360.1H332.2" stroke="#000080" stroke-width="2.7" fill="none"/>
<path d="M402.8 3319.3V3332.5M394.1 3319.3H411.5M394.1 3332.5H411.5" stroke="#000080" stroke-width="2.7" fill="none"/>
<path d="M561.4 3287.7V3300.9M552.7 3287.7H570.1M552.7 3300.9H570.1" stroke="#000080" stroke-width="2.7" fill="none"/>
<path d="M720 3237.7V3250.9M711.3 3237.7H728.7M711.3 3250.9H728.7" stroke="#000080" stroke-width="2.7" fill="none"/>
<path d="M1195.8 3190.3V3203.5M1187.1 3190.3H1204.5M1187.1 3203.5H1204.5" stroke="#000080" stroke-width="2.7" fill="none"/>
<path d="M2147.4 3089.6V3102.7M2138.7 3089.6H2156.1M2138.7 3102.7H2156.1" stroke="#000080" stroke-width="2.7" fill="none"/>
<path d="M272.2 3368L290.7 3356.4L290.7 3379.7Z" fill="#000080"/>
<path d="M311.8 3352.2L330.4 3340.6L330.4 3363.9Z" fill="#000080"/>
<path d="M391.1 3325.9L409.7 3314.2L409.7 3337.6Z" fill="#000080"/>
<path d="M549.7 3294.3L568.3 3282.6L568.3 3306Z" fill="#000080"/>
<path d="M708.3 3244.3L726.9 3232.6L726.9 3255.9Z" fill="#000080"/>
<path d="M1184.1 3196.9L1202.7 3185.2L1202.7 3208.5Z" fill="#000080"/>
<path d="M2135.7 3096.2L2154.3 3084.5L2154.3 3107.8Z" fill="#000080"/>
<polyline points="283.8,3320.6 323.5,3036.3 402.8,2815.1 561.4,2542.6 720,2312.2 1195.8,2092.3 2147.4,2081.8" fill="none" stroke="#000000" stroke-width="5.5" stroke-linejoin="round" stroke-linecap="round"/>
<path d="M283.8 3312.7V3328.5M275.1 3312.7H292.5M275.1 3328.5H292.5" stroke="#000000" stroke-width="2.7" fill="none"/>
<path d="M323.5 3016.5V3056M314.8 3016.5H332.2M314.8 3056H332.2" stroke="#000000" stroke-width="2.7" fill="none"/>
<path d="M402.8 2791.4V2838.8M394.1 2791.4H411.5M394.1 2838.8H411.5" stroke="#000000" stroke-width="2.7" fill="none"/>
<path d="M561.4 2532V2553.1M552.7 2532H570.1M552.7 2553.1H570.1" stroke="#000000" stroke-width="2.7" fill="none"/>
<path d="M720 2305.6V2318.8M711.3 2305.6H728.7M711.3 2318.8H728.7" stroke="#000000" stroke-width="2.7" fill="none"/>
<path d="M1195.8 2087.1V2097.6M1187.1 2087.1H1204.5M1187.1 2097.6H1204.5" stroke="#000000" stroke-width="2.7" fill="none"/>
<rect x="274.5" y="3311.3" width="18.7" height="18.7" fill="#000000"/>
<rect x="314.2" y="3026.9" width="18.7" height="18.7" fill="#000000"/>
<rect x="393.5" y="2805.8" width="18.7" height="18.7" fill="#000000"/>
<rect x="552.1" y="2533.2" width="18.7" height="18.7" fill="#000000"/>
<rect x="710.7" y="2302.9" width="18.7" height="18.7" fill="#000000"/>
<rect x="1186.5" y="2083" width="18.7" height="18.7" fill="#000000"/>
<rect x="2138.1" y="2072.5" width="18.7" height="18.7" fill="#000000"/>
<polyline points="283.8,3261.4 323.5,3019.1 402.8,2769 561.4,2539.9 720,2274 1195.8,2081.8 2147.4,2081.8" fill="none" stroke="#ff0000" stroke-width="5.5" stroke-linejoin="round" stroke-linecap="round"/>
<path d="M283.8 3253.5V3269.3M275.1 3253.5H292.5M275.1 3269.3H292.5" stroke="#ff0000" stroke-width="2.7" fill="none"/>
<path d="M323.5 3008.6V3029.7M314.8 3008.6H332.2M314.8 3029.7H332.2" stroke="#ff0000" stroke-width="2.7" fill="none"/>
<path d="M402.8 2758.5V2779.5M394.1 2758.5H411.5M394.1 2779.5H411.5" stroke="#ff0000" stroke-width="2.7" fill="none"/>
<path d="M561.4 2529.4V2550.5M552.7 2529.4H570.1M552.7 2550.5H570.1" stroke="#ff0000" stroke-width="2.7" fill="none"/>
<path d="M720 2267.4V2280.6M711.3 2267.4H728.7M711.3 2280.6H728.7" stroke="#ff0000" stroke-width="2.7" fill="none"/>
<path d="M1195.8 2076.5V2087.1M1187.1 2076.5H1204.5M1187.1 2087.1H1204.5" stroke="#ff0000" stroke-width="2.7" fill="none"/>
<circle cx="283.8" cy="3261.4" r="10.1" fill="#ff0000"/>
<circle cx="323.5" cy="3019.1" r="10.1" fill="#ff0000"/>
<circle cx="402.8" cy="2769" r="10.1" fill="#ff0000"/>
<circle cx="561.4" cy="2539.9" r="10.1" fill="#ff0000"/>
<circle cx="720" cy="2274" r="10.1" fill="#ff0000"/>
<circle cx="1195.8" cy="2081.8" r="10.1" fill="#ff0000"/>
<circle cx="2147.4" cy="2081.8" r="10.1" fill="#ff0000"/>
<polyline points="283.8,3223.2 323.5,2990.2 402.8,2754.5 561.4,2457 720,2226.6 1195.8,2081.8 2147.4,2081.8" fill="none" stroke="#0000ff" stroke-width="5.5" stroke-linejoin="round" stroke-linecap="round"/>
<path d="M283.8 3207.4V3239M275.1 3207.4H292.5M275.1 3239H292.5" stroke="#0000ff" stroke-width="2.7" fill="none"/>
<path d="M323.5 2974.4V3006M314.8 2974.4H332.2M314.8 3006H332.2" stroke="#0000ff" stroke-width="2.7" fill="none"/>
<path d="M402.8 2742.7V2766.4M394.1 2742.7H411.5M394.1 2766.4H411.5" stroke="#0000ff" stroke-width="2.7" fill="none"/>
<path d="M561.4 2441.2V2472.8M552.7 2441.2H570.1M552.7 2472.8H570.1" stroke="#0000ff" stroke-width="2.7" fill="none"/>
<path d="M720 2218.7V2234.5M711.3 2218.7H728.7M711.3 2234.5H728.7" stroke="#0000ff" stroke-width="2.7" fill="none"/>
<path d="M1195.8 2076.5V2087.1M1187.1 2076.5H1204.5M1187.1 2087.1H1204.5" stroke="#0000ff" stroke-width="2.7" fill="none"/>
<path d="M283.8 3208.8L296 3230.2L271.7 3230.2Z" fill="#0000ff"/>
<path d="M323.5 2975.8L335.7 2997.2L311.3 2997.2Z" fill="#0000ff"/>
<path d="M402.8 2740.1L415 2761.5L390.6 2761.5Z" fill="#0000ff"/>
<path d="M561.4 2442.6L573.6 2464L549.2 2464Z" fill="#0000ff"/>
<path d="M720 2212.2L732.2 2233.6L707.8 2233.6Z" fill="#0000ff"/>
<path d="M1195.8 2067.4L1208 2088.8L1183.6 2088.8Z" fill="#0000ff"/>
<path d="M2147.4 2067.4L2159.6 2088.8L2135.2 2088.8Z" fill="#0000ff"/>
<polyline points="283.8,3200.8 323.5,2942.8 402.8,2720.3 561.4,2449.1 720,2205.6 1195.8,2081.8 2147.4,2081.8" fill="none" stroke="#ff00ff" stroke-width="5.5" stroke-linejoin="round" stroke-linecap="round"/>
<path d="M283.8 3179.8V3221.9M275.1 3179.8H292.5M275.1 3221.9H292.5" stroke="#ff00ff" stroke-width="2.7" fill="none"/>
<path d="M323.5 2932.3V2953.3M314.8 2932.3H332.2M314.8 2953.3H332.2" stroke="#ff00ff" stroke-width="2.7" fill="none"/>
<path d="M402.8 2709.8V2730.8M394.1 2709.8H411.5M394.1 2730.8H411.5" stroke="#ff00ff" stroke-width="2.7" fill="none"/>
<path d="M561.4 2438.6V2459.6M552.7 2438.6H570.1M552.7 2459.6H570.1" stroke="#ff00ff" stroke-width="2.7" fill="none"/>
<path d="M720 2193.7V2217.4M711.3 2193.7H728.7M711.3 2217.4H728.7" stroke="#ff00ff" stroke-width="2.7" fill="none"/>
<path d="M1195.8 2077.9V2085.7M1187.1 2077.9H1204.5M1187.1 2085.7H1204.5" stroke="#ff00ff" stroke-width="2.7" fill="none"/>
<path d="M283.8 3214.6L296 3193.9L271.7 3193.9Z" fill="#ff00ff"/>
<path d="M323.5 2956.6L335.7 2935.9L311.3 2935.9Z" fill="#ff00ff"/>
<path d="M402.8 2734.1L415 2713.4L390.6 2713.4Z" fill="#ff00ff"/>
<path d="M561.4 2462.9L573.6 2442.2L549.2 2442.2Z" fill="#ff00ff"/>
<path d="M720 2219.3L732.2 2198.7L707.8 2198.7Z" fill="#ff00ff"/>
<path d="M1195.8 2095.6L1208 2074.9L1183.6 2074.9Z" fill="#ff00ff"/>
<path d="M2147.4 2095.6L2159.6 2074.9L2135.2 2074.9Z" fill="#ff00ff"/>
<polyline points="283.8,3289 323.5,3073.1 402.8,2859.9 561.4,2530.7 720,2284.5 1195.8,2081.8 2147.4,2081.8" fill="none" stroke="#008000" stroke-width="5.5" stroke-linejoin="round" stroke-linecap="round"/>
<path d="M283.8 3278.5V3299.6M275.1 3278.5H292.5M275.1 3299.6H292.5" stroke="#008000" stroke-width="2.7" fill="none"/>
<path d="M323.5 3036.3V3110M314.8 3036.3H332.2M314.8 3110H332.2" stroke="#008000" stroke-width="2.7" fill="none"/>
<path d="M402.8 2824.3V2895.4M394.1 2824.3H411.5M394.1 2895.4H411.5" stroke="#008000" stroke-width="2.7" fill="none"/>
<path d="M561.4 2475.4V2586M552.7 2475.4H570.1M552.7 2586H570.1" stroke="#008000" stroke-width="2.7" fill="none"/>
<path d="M720 2250.3V2318.8M711.3 2250.3H728.7M711.3 2318.8H728.7" stroke="#008000" stroke-width="2.7" fill="none"/>
<path d="M1195.8 2077.9V2085.7M1187.1 2077.9H1204.5M1187.1 2085.7H1204.5" stroke="#008000" stroke-width="2.7" fill="none"/>
<path d="M283.8 3276.1L295.3 3289L283.8 3302L272.4 3289Z" fill="#008000"/>
<path d="M323.5 3060.2L334.9 3073.1L323.5 3086.1L312.1 3073.1Z" fill="#008000"/>
<path d="M402.8 2846.9L414.2 2859.9L402.8 2872.8L391.4 2859.9Z" fill="#008000"/>
<path d="M561.4 2517.8L572.8 2530.7L561.4 2543.7L550 2530.7Z" fill="#008000"/>
<path d="M720 2271.6L731.4 2284.5L720 2297.5L708.6 2284.5Z" fill="#008000"/>
<path d="M1195.8 2068.9L1207.2 2081.8L1195.8 2094.7L1184.4 2081.8Z" fill="#008000"/>
<path d="M2147.4 2068.9L2158.8 2081.8L2147.4 2094.7L2136 2081.8Z" fill="#008000"/>
<polyline points="283.8,3328.5 323.5,3174.5 402.8,2942.8 561.4,2592.6 720,2341.2 1195.8,2096.9 2147.4,2081.8" fill="none" stroke="#000080" stroke-width="5.5" stroke-linejoin="round" stroke-linecap="round"/>
<path d="M283.8 3311.4V3345.6M275.1 3311.4H292.5M275.1 3345.6H292.5" stroke="#000080" stroke-width="2.7" fill="none"/>
<path d="M323.5 3131.1V3217.9M314.8 3131.1H332.2M314.8 3217.9H332.2" stroke="#000080" stroke-width="2.7" fill="none"/>
<path d="M402.8 2916.5V2969.1M394.1 2916.5H411.5M394.1 2969.1H411.5" stroke="#000080" stroke-width="2.7" fill="none"/>
<path d="M561.4 2574.2V2611M552.7 2574.2H570.1M552.7 2611H570.1" stroke="#000080" stroke-width="2.7" fill="none"/>
<path d="M720 2325.4V2356.9M711.3 2325.4H728.7M711.3 2356.9H728.7" stroke="#000080" stroke-width="2.7" fill="none"/>
<path d="M1195.8 2082.5V2111.4M1187.1 2082.5H1204.5M1187.1 2111.4H1204.5" stroke="#000080" stroke-width="2.7" fill="none"/>
<path d="M272.2 3328.5L290.7 3316.9L290.7 3340.2Z" fill="#000080"/>
<path d="M311.8 3174.5L330.4 3162.8L330.4 3186.2Z" fill="#000080"/>
<path d="M391.1 2942.8L409.7 2931.1L409.7 2954.5Z" fill="#000080"/>
<path d="M549.7 2592.6L568.3 2580.9L568.3 2604.3Z" fill="#000080"/>
<path d="M708.3 2341.2L726.9 2329.5L726.9 2352.8Z" fill="#000080"/>
<path d="M1184.1 2096.9L1202.7 2085.3L1202.7 2108.6Z" fill="#000080"/>
<path d="M2135.7 2081.8L2154.3 2070.1L2154.3 2093.5Z" fill="#000080"/>
<path d="M244.2 1947.2V3398.3M212.2 3398.3H2228.7M212.2 3135H244.2M212.2 2871.7H244.2M212.2 2608.4H244.2M212.2 2345.1H244.2M212.2 2081.8H244.2M244.2 3398.3V3430.3M402.8 3398.3V3430.3M561.4 3398.3V3430.3M720 3398.3V3430.3M878.6 3398.3V3430.3M1037.2 3398.3V3430.3M1195.8 3398.3V3430.3M1354.4 3398.3V3430.3M1513 3398.3V3430.3M1671.6 3398.3V3430.3M1830.2 3398.3V3430.3M1988.8 3398.3V3430.3M2147.4 3398.3V3430.3" stroke="#000" stroke-width="5.8" fill="none"/>
<text transform="translate(193.2 3413.3) scale(0.96 1)" text-anchor="end" font-size="50.5">0</text>
<text transform="translate(193.2 3150) scale(0.96 1)" text-anchor="end" font-size="50.5">20</text>
<text transform="translate(193.2 2886.7) scale(0.96 1)" text-anchor="end" font-size="50.5">40</text>
<text transform="translate(193.2 2623.4) scale(0.96 1)" text-anchor="end" font-size="50.5">60</text>
<text transform="translate(193.2 2360.1) scale(0.96 1)" text-anchor="end" font-size="50.5">80</text>
<text transform="translate(193.2 2096.8) scale(0.96 1)" text-anchor="end" font-size="50.5">100</text>
<text transform="translate(244.2 3485.3) scale(0.96 1)" text-anchor="middle" font-size="50.5">0</text>
<text transform="translate(402.8 3485.3) scale(0.96 1)" text-anchor="middle" font-size="50.5">4</text>
<text transform="translate(561.4 3485.3) scale(0.96 1)" text-anchor="middle" font-size="50.5">8</text>
<text transform="translate(720 3485.3) scale(0.96 1)" text-anchor="middle" font-size="50.5">12</text>
<text transform="translate(878.6 3485.3) scale(0.96 1)" text-anchor="middle" font-size="50.5">16</text>
<text transform="translate(1037.2 3485.3) scale(0.96 1)" text-anchor="middle" font-size="50.5">20</text>
<text transform="translate(1195.8 3485.3) scale(0.96 1)" text-anchor="middle" font-size="50.5">24</text>
<text transform="translate(1354.4 3485.3) scale(0.96 1)" text-anchor="middle" font-size="50.5">28</text>
<text transform="translate(1513 3485.3) scale(0.96 1)" text-anchor="middle" font-size="50.5">32</text>
<text transform="translate(1671.6 3485.3) scale(0.96 1)" text-anchor="middle" font-size="50.5">36</text>
<text transform="translate(1830.2 3485.3) scale(0.96 1)" text-anchor="middle" font-size="50.5">40</text>
<text transform="translate(1988.8 3485.3) scale(0.96 1)" text-anchor="middle" font-size="50.5">44</text>
<text transform="translate(2147.4 3485.3) scale(0.96 1)" text-anchor="middle" font-size="50.5">48</text>
<text transform="translate(1235.5 3576.9) scale(0.96 1)" text-anchor="middle" font-size="50.5">Time (hour)</text>
<text transform="translate(69.5 3162.5) rotate(-90) scale(0.96 1)" font-size="50.5">Cumulative amount of MPa released (%)</text>
<text transform="translate(2222.7 2079.5) scale(0.96 1)" font-size="43.3">pH 5</text>
<text transform="translate(2222.7 3111.2) scale(0.96 1)" font-size="43.3">pH 7.4</text>
<path d="M643.3 2118.3H674.4M684.7 2118.3H711.1M719.9 2118.3H746.4M755.9 2118.3H792.2M660.4 2414.4H686.1M696.4 2414.4H721.4M731.7 2414.4H757.4M767.7 2414.4H792.2M648 2113.6V2129.7M648 2140.7V2166.4M648 2175.2V2200.9M648 2210.5V2237M648 2246.5V2273M648 2283.2V2309M648 2319.2V2344.2M648 2354.5V2380.2M648 2389.8V2419.1M787.5 2113.6V2148M787.5 2157.6V2184M787.5 2193.6V2219.3M787.5 2228.9V2254.6M787.5 2265.6V2290.6M787.5 2300.9V2326.6M787.5 2336.9V2362.6M787.5 2372.9V2398.6M787.5 2408.2V2419.1" stroke="#000" stroke-width="9.0" fill="none"/>
<path d="M788 2118.5L1275 2166.5" stroke="#000" stroke-width="8.2" stroke-dasharray="25 10.8" fill="none"/>
<path d="M788 2418L1272 2979.5" stroke="#000" stroke-width="8.2" stroke-dasharray="25 10.8" fill="none"/>
<rect x="1279" y="2164.8" width="1168.4" height="813.8" fill="#fff" stroke="#000" stroke-width="3.9"/>
<polyline points="1454,2707.3 1918.7,2629.6 2384,2605.9" fill="none" stroke="#000000" stroke-width="3.4"/>
<polyline points="1454,2617.6 1918.7,2528.2 2384,2507.2" fill="none" stroke="#ff0000" stroke-width="3.8"/>
<polyline points="1454,2475.6 1918.7,2397.1 2384,2383" fill="none" stroke="#0000ff" stroke-width="3.8"/>
<polyline points="1454,2425.7 1918.7,2344.8 2384,2330.7" fill="none" stroke="#ff00ff" stroke-width="3.8"/>
<polyline points="1454,2635.7 1918.7,2553.1 2384,2531" fill="none" stroke="#008000" stroke-width="4.2"/>
<polyline points="1454,2787.8 1918.7,2705.3 2384,2677.1" fill="none" stroke="#000080" stroke-width="3.4"/>
<path d="M1918.7 2614.6V2644.6M1915.7 2614.6H1921.7M1915.7 2644.6H1921.7" stroke="#000000" stroke-width="1.4" fill="none" opacity="0.7"/>
<rect x="1910" y="2620.9" width="17.4" height="17.4" fill="#000000"/>
<path d="M1918.7 2516.2V2540.2M1915.7 2516.2H1921.7M1915.7 2540.2H1921.7" stroke="#ff0000" stroke-width="1.4" fill="none" opacity="0.7"/>
<circle cx="1918.7" cy="2528.2" r="9.4" fill="#ff0000"/>
<path d="M1918.7 2375.1V2419.1M1915.7 2375.1H1921.7M1915.7 2419.1H1921.7" stroke="#0000ff" stroke-width="1.4" fill="none" opacity="0.7"/>
<path d="M1918.7 2383.7L1930 2403.6L1907.4 2403.6Z" fill="#0000ff"/>
<path d="M1918.7 2309.8V2379.8M1915.7 2309.8H1921.7M1915.7 2379.8H1921.7" stroke="#ff00ff" stroke-width="1.4" fill="none" opacity="0.7"/>
<path d="M1918.7 2357.6L1930 2338.4L1907.4 2338.4Z" fill="#ff00ff"/>
<path d="M1918.7 2463.1V2643.1M1915.7 2463.1H1921.7M1915.7 2643.1H1921.7" stroke="#008000" stroke-width="1.4" fill="none" opacity="0.7"/>
<path d="M1918.7 2541.1L1929.3 2553.1L1918.7 2565.1L1908.1 2553.1Z" fill="#008000"/>
<path d="M1918.7 2659.3V2751.3M1915.7 2659.3H1921.7M1915.7 2751.3H1921.7" stroke="#000080" stroke-width="1.4" fill="none" opacity="0.7"/>
<path d="M1907.9 2705.3L1925.1 2694.5L1925.1 2716.1Z" fill="#000080"/>
<text transform="translate(1432 2374.4) scale(0.96 1)" text-anchor="end" font-size="40.6">90</text>
<text transform="translate(1432 2727.7) scale(0.96 1)" text-anchor="end" font-size="40.6">80</text>
<path d="M1454 2253.5V2819.6M1454 2819.6H2386M1918.7 2819.6V2831.6M1440 2360.9H1454M1440 2714.2H1454" stroke="#000" stroke-width="3.6" fill="none"/>
<text transform="translate(1918.7 2870.6) scale(0.96 1)" text-anchor="middle" font-size="40.6">12</text>
<text transform="translate(1918.7 2937.6) scale(0.96 1)" text-anchor="middle" font-size="41.3">Time (hour)</text>
<text transform="translate(1364 2943) rotate(-90) scale(0.96 1)" font-size="41.3">Cumulative amount of MPa released (%)</text>
<path d="M569.5 3630.9H680.5" stroke="#000000" stroke-width="5.6" stroke-linecap="round" fill="none"/>
<rect x="615.7" y="3621.6" width="18.7" height="18.7" fill="#000000"/>
<text transform="translate(695.6 3647.5) scale(0.96 1)" font-size="50.5">F7</text>
<path d="M781.4 3630.9H892.4" stroke="#ff0000" stroke-width="5.6" stroke-linecap="round" fill="none"/>
<circle cx="836.9" cy="3630.9" r="10.1" fill="#ff0000"/>
<text transform="translate(907.5 3647.5) scale(0.96 1)" font-size="50.5">F8</text>
<path d="M993.3 3630.9H1104.3" stroke="#0000ff" stroke-width="5.6" stroke-linecap="round" fill="none"/>
<path d="M1048.8 3616.5L1061 3637.9L1036.6 3637.9Z" fill="#0000ff"/>
<text transform="translate(1119.4 3647.5) scale(0.96 1)" font-size="50.5">F9</text>
<path d="M1205.2 3630.9H1316.2" stroke="#ff00ff" stroke-width="5.6" stroke-linecap="round" fill="none"/>
<path d="M1260.7 3644.7L1272.9 3624L1248.5 3624Z" fill="#ff00ff"/>
<text transform="translate(1331.3 3647.5) scale(0.96 1)" font-size="50.5">F10</text>
<path d="M1444.4 3630.9H1555.4" stroke="#008000" stroke-width="5.6" stroke-linecap="round" fill="none"/>
<path d="M1499.9 3618L1511.3 3630.9L1499.9 3643.8L1488.5 3630.9Z" fill="#008000"/>
<text transform="translate(1570.5 3647.5) scale(0.96 1)" font-size="50.5">F11</text>
<path d="M1683.6 3630.9H1794.6" stroke="#000080" stroke-width="5.6" stroke-linecap="round" fill="none"/>
<path d="M1727.4 3630.9L1746 3619.2L1746 3642.6Z" fill="#000080"/>
<text transform="translate(1809.7 3647.5) scale(0.96 1)" font-size="50.5">F12</text>
<text transform="translate(1179.6 3800.4) scale(0.945 1)" text-anchor="middle" class="cap" font-size="78"><tspan dy="2">(</tspan><tspan class="capb" dy="-2">B</tspan><tspan dy="2">)</tspan></text>
</g>
</svg>
</body>
</html>
